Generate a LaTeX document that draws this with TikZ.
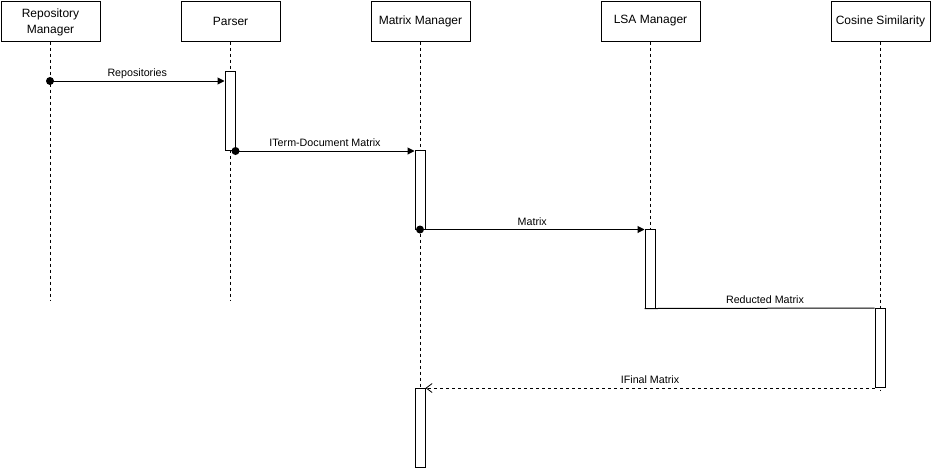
\documentclass[tikz,border=0pt]{standalone}
\usepackage{fontspec}
\setmainfont{Liberation Sans}
\usetikzlibrary{arrows.meta}
\begin{document}
\begin{tikzpicture}[x=1pt,y=-1pt,
  head/.style={draw, line width=1pt, minimum width=99pt, minimum height=40pt, align=center, font=\fontsize{12}{15}\selectfont, inner sep=0pt},
  act/.style={draw, fill=white, line width=1pt, minimum width=10pt, minimum height=79pt, inner sep=0pt},
  life/.style={dash pattern=on 3pt off 3pt, line width=0.8pt},
  msg/.style={line width=1pt, -{Triangle[length=7pt,width=7pt]}},
  plain/.style={line width=1pt},
  ret/.style={line width=0.8pt, dash pattern=on 3pt off 3pt, -{Straight Barb[length=6pt,width=9pt,line width=0.8pt]}},
  lbl/.style={font=\fontsize{10.7}{12}\selectfont, above, inner sep=1.5pt, text height=8pt, text depth=2.5pt},
  dot/.style={circle, fill=black, minimum size=8pt, inner sep=0pt}
]
\useasboundingbox (0,0) rectangle (932,469);
% headers
\node[head] (rm) at (50.5,21) {};
\node[font=\fontsize{12}{15}\selectfont, align=center, inner sep=0pt] (rmt) at (50.5,22.5) {Repository\\[1pt]Manager};
\node[head] (pa) at (230.5,21) {Parser};
\node[head] (mm) at (420.5,21) {Matrix Manager};
\node[head] (lsa) at (650.5,21) {LSA Manager};
\node[head] (cs) at (880.5,21) {Cosine Similarity};
% lifeline ends
\coordinate (rmE) at (50,300);
\coordinate (paE) at (230,300);
\coordinate (mmE) at (420,388);
\coordinate (lsaE) at (650,229);
\coordinate (csE) at (880,391);
\draw[life] (rm.south -| rmE) -- (rmE);
\draw[life] (pa.south -| paE) -- (paE);
\draw[life] (mm.south -| mmE) -- (mmE);
\draw[life] (lsa.south -| lsaE) -- (lsaE);
\draw[life] (cs.south -| csE) -- (csE);
% activations
\node[act] (pa1) at (230,111) {};
\node[act] (mm1) at (420,189.5) {};
\node[act] (lsa1) at (650,268.5) {};
\node[act] (cs1) at (880,348) {};
\node[act] (mm2) at (420,428) {};
% messages
\node[dot] (d1) at (50,81) {};
\draw[msg] (d1.center) -- node[lbl] {Repositories} (pa1.west |- d1.center);
\node[dot] (d2) at (pa1.south east) {};
\draw[msg] (d2.center) -- node[lbl] {ITerm-Document Matrix} (mm1.north west |- d2.center);
\node[dot] (d3) at (mm1.south) {};
\draw[msg] (d3.center) -- node[lbl] {Matrix} (lsa1.north west |- d3.center);
\draw[plain] (lsa1.south west) -- (lsa1.south east) -- node[lbl] {Reducted Matrix} (cs1.north west);
\draw[ret] (cs1.south west) -- node[lbl] {IFinal Matrix} (mm2.north east);
\end{tikzpicture}
\end{document}
